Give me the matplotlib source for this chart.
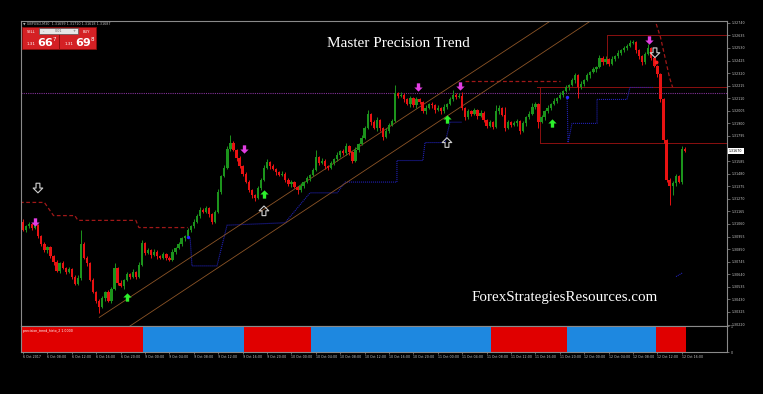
import numpy as np
import matplotlib.pyplot as plt
from matplotlib.path import Path
from matplotlib.patches import Rectangle

# GBPUSD M30, 6-12 Oct 2017 -- closes, open = previous close
first_open = 1.3108
closes = [
    1.3101, 1.3104, 1.3106, 1.3103, 1.3105, 1.3096, 1.3089, 1.3084, 1.3087, 1.3079,
    1.3074, 1.3067, 1.3073, 1.3069, 1.3066, 1.3068, 1.3062, 1.3056, 1.3061, 1.3089,
    1.3078, 1.3073, 1.3059, 1.3049, 1.3042, 1.3037, 1.3044, 1.3049, 1.3042, 1.3052,
    1.3069, 1.3057, 1.3054, 1.3059, 1.3064, 1.3062, 1.3066, 1.3062, 1.3072, 1.3090,
    1.3082, 1.3084, 1.3080, 1.3083, 1.3079, 1.3078, 1.3081, 1.3078, 1.3076, 1.3083,
    1.3086, 1.3089, 1.3094, 1.3096, 1.3101, 1.3104, 1.3108, 1.3113, 1.3118, 1.3116,
    1.3119, 1.3114, 1.3108, 1.3116, 1.3133, 1.3146, 1.3153, 1.3169, 1.3174, 1.3168,
    1.3161, 1.3154, 1.3148, 1.3141, 1.3134, 1.3130, 1.3128, 1.3136, 1.3143, 1.3153,
    1.3158, 1.3154, 1.3152, 1.3149, 1.3147, 1.3148, 1.3143, 1.3139, 1.3141, 1.3137,
    1.3134, 1.3138, 1.3141, 1.3144, 1.3147, 1.3151, 1.3162, 1.3157, 1.3159, 1.3154,
    1.3153, 1.3157, 1.3160, 1.3164, 1.3167, 1.3165, 1.3171, 1.3166, 1.3159, 1.3168,
    1.3173, 1.3178, 1.3186, 1.3198, 1.3191, 1.3186, 1.3193, 1.3186, 1.3179, 1.3184,
    1.3189, 1.3192, 1.3215, 1.3213, 1.3214, 1.3210, 1.3206, 1.3211, 1.3205, 1.3210,
    1.3208, 1.3200, 1.3203, 1.3206, 1.3205, 1.3201, 1.3203, 1.3200, 1.3204, 1.3206,
    1.3210, 1.3214, 1.3212, 1.3213, 1.3203, 1.3195, 1.3200, 1.3198, 1.3201, 1.3196,
    1.3199, 1.3193, 1.3188, 1.3191, 1.3187, 1.3200, 1.3203, 1.3197, 1.3186, 1.3191,
    1.3189, 1.3190, 1.3192, 1.3184, 1.3190, 1.3195, 1.3198, 1.3204, 1.3206, 1.3191,
    1.3195, 1.3200, 1.3203, 1.3206, 1.3209, 1.3211, 1.3214, 1.3217, 1.3220, 1.3222,
    1.3226, 1.3230, 1.3220, 1.3223, 1.3226, 1.3230, 1.3233, 1.3235, 1.3237, 1.3245,
    1.3241, 1.3244, 1.3240, 1.3244, 1.3246, 1.3249, 1.3251, 1.3253, 1.3255, 1.3257,
    1.3258, 1.3251, 1.3246, 1.3241, 1.3248, 1.3253, 1.3245, 1.3238, 1.3231, 1.3210,
    1.3176, 1.3143, 1.3138, 1.3140, 1.3146, 1.3141, 1.3169, 1.3167,
]
# wick lengths in pips above / below the body
upper_wick = [
    2, 1, 2, 1, 2, 1, 1, 2, 1, 1,
    1, 2, 1, 2, 1, 2, 1, 1, 2, 12,
    2, 1, 1, 2, 1, 1, 2, 1, 2, 1,
    4, 1, 2, 1, 2, 1, 2, 1, 2, 3,
    1, 2, 1, 2, 1, 1, 2, 1, 1, 2,
    1, 2, 1, 1, 2, 1, 2, 1, 2, 1,
    2, 1, 1, 2, 2, 1, 2, 2, 6, 1,
    1, 2, 1, 1, 2, 1, 1, 2, 1, 2,
    2, 1, 2, 1, 1, 2, 1, 1, 2, 1,
    1, 2, 1, 2, 1, 2, 6, 1, 2, 1,
    1, 2, 1, 2, 1, 2, 3, 1, 1, 2,
    1, 2, 2, 3, 1, 2, 2, 1, 1, 2,
    1, 2, 7, 1, 2, 1, 1, 2, 1, 2,
    1, 1, 2, 1, 2, 1, 2, 1, 2, 1,
    2, 4, 1, 2, 3, 1, 2, 1, 2, 1,
    2, 1, 1, 2, 1, 5, 2, 1, 7, 2,
    1, 2, 2, 1, 2, 1, 2, 3, 2, 1,
    2, 1, 2, 1, 2, 1, 2, 1, 2, 1,
    2, 2, 1, 2, 1, 2, 1, 2, 1, 2,
    1, 2, 1, 2, 1, 2, 1, 2, 1, 3,
    2, 1, 1, 1, 2, 3, 1, 1, 1, 1,
    1, 1, 1, 2, 2, 1, 2, 1,
]
lower_wick = [
    1, 2, 1, 2, 1, 2, 1, 1, 2, 1,
    2, 1, 2, 1, 2, 1, 2, 1, 1, 2,
    1, 2, 1, 1, 2, 5, 1, 2, 1, 2,
    1, 2, 1, 2, 1, 2, 1, 2, 1, 1,
    2, 1, 2, 1, 2, 1, 1, 2, 1, 1,
    2, 1, 1, 2, 1, 2, 1, 1, 2, 1,
    1, 2, 2, 1, 1, 2, 1, 1, 2, 1,
    2, 1, 2, 1, 1, 2, 3, 1, 2, 1,
    1, 2, 1, 2, 1, 1, 2, 1, 2, 1,
    3, 1, 2, 1, 2, 1, 1, 2, 1, 2,
    2, 1, 2, 1, 2, 1, 1, 2, 2, 1,
    2, 1, 1, 1, 2, 1, 2, 2, 3, 1,
    2, 1, 1, 2, 1, 2, 1, 2, 1, 2,
    2, 1, 2, 1, 2, 2, 1, 2, 1, 2,
    1, 1, 2, 1, 2, 2, 1, 2, 1, 2,
    1, 2, 2, 1, 2, 1, 2, 1, 2, 1,
    2, 1, 2, 3, 1, 2, 1, 1, 2, 5,
    1, 2, 1, 2, 1, 2, 1, 2, 1, 2,
    1, 2, 9, 1, 2, 1, 2, 1, 2, 1,
    2, 1, 2, 1, 2, 1, 2, 1, 2, 1,
    1, 2, 2, 2, 1, 1, 2, 1, 2, 2,
    2, 2, 16, 8, 2, 1, 2, 1,
]

# precision_trend_histo: run lengths of sell / buy state
histo_runs = [(40, 'sell'), (33, 'buy'), (22, 'sell'), (59, 'buy'),
              (25, 'sell'), (29, 'buy'), (10, 'sell')]

price_ticks = [1.32740, 1.32635, 1.32530, 1.32425, 1.32320, 1.32215, 1.32110,
               1.32005, 1.31900, 1.31795, 1.31690, 1.31585, 1.31480, 1.31375,
               1.31270, 1.31165, 1.31060, 1.30955, 1.30850, 1.30745, 1.30640,
               1.30535, 1.30430, 1.30325, 1.30220]
time_labels = ['6 Oct 2017', '6 Oct 08:00', '6 Oct 12:00', '6 Oct 16:00', '6 Oct 20:00',
               '9 Oct 00:00', '9 Oct 04:00', '9 Oct 08:00', '9 Oct 12:00', '9 Oct 16:00',
               '9 Oct 20:00', '10 Oct 00:00', '10 Oct 04:00', '10 Oct 08:00',
               '10 Oct 12:00', '10 Oct 16:00', '10 Oct 20:00', '11 Oct 00:00',
               '11 Oct 04:00', '11 Oct 08:00', '11 Oct 12:00', '11 Oct 16:00',
               '11 Oct 20:00', '12 Oct 00:00', '12 Oct 04:00', '12 Oct 08:00',
               '12 Oct 12:00', '12 Oct 16:00']

# indicator lines (bar index, price)
stop_x = [-1, 7, 10, 17, 18, 37, 38, 54]
stop_y = [1.3124, 1.3124, 1.3113, 1.3113, 1.3109, 1.3109, 1.3103, 1.3103]
resist_x = [145, 176]
resist_y = [1.3225, 1.3225]
drop_x = [207, 209, 210.5, 212, 213]
drop_y = [1.3278, 1.3262, 1.3245, 1.3228, 1.3220]
trail_a_x = [54.8, 55.4, 63.6, 66.9, 85.9, 94.1, 103, 105.6, 122.6, 122.6,
             131.1, 131.8, 138.4, 140, 143.9]
trail_a_y = [1.3094, 1.3071, 1.3071, 1.3105, 1.3107, 1.3132, 1.3132, 1.3141,
             1.3141, 1.3159, 1.3159, 1.3174, 1.3174, 1.3191, 1.3191]
trail_b_x = [178.4, 178.7, 180, 188.2, 188.2, 198, 199, 206.6]
trail_b_y = [1.3212, 1.3174, 1.3190, 1.3190, 1.3210, 1.3210, 1.3220, 1.3220]
trail_c_x = [214.1, 216.1]
trail_c_y = [1.3062, 1.3065]
pivot_level = 1.3215
box_top, box_top_start, box_top_low = 1.3264, 191.5, 1.3245
box_mid, box_mid_start = 1.3220, 168.5
box_low, box_low_start = 1.3174, 169.5
channel_up_x, channel_up_y = [25, 175], [1.3028, 1.3279]
channel_lo_x, channel_lo_y = [34, 200], [1.3019, 1.3299]

sell_x = [3.9, 72.5, 129.5, 143.3, 205.2]
sell_y = [1.3108, 1.3169, 1.3220, 1.3221, 1.3260]
buy_x = [34.1, 79, 139, 173.4]
buy_y = [1.3045, 1.3131, 1.3194, 1.3190]
exit_dn_x, exit_dn_y = [4.9, 207.2], [1.3136, 1.3249]
exit_up_x, exit_up_y = [79, 139], [1.3117, 1.3174]
blue_dot_x, blue_dot_y = [54, 178.4], [1.3095, 1.3212]
red_dot_x, red_dot_y = [207.5], [1.3241]

W, H = 763, 394
fig = plt.figure(figsize=(W / 100, H / 100), dpi=100, facecolor='black')
ax = fig.add_axes([21 / W, 1 - 326 / H, 706 / W, 305 / H], facecolor='black')
ax2 = fig.add_axes([21 / W, 1 - 352 / H, 706 / W, 26 / H], facecolor='black')

n = len(closes)
idx = np.arange(n)
c = np.array(closes)
o = np.concatenate([[first_open], c[:-1]])
hi = np.maximum(o, c) + np.array(upper_wick) * 0.0001
lo = np.minimum(o, c) - np.array(lower_wick) * 0.0001
up = c >= o
col = np.where(up, '#1c941c', '#e81212')

ax.vlines(idx, lo, hi, colors=col, lw=0.7, zorder=3)
ax.bar(idx, np.maximum(np.abs(c - o), 0.00003), bottom=np.minimum(o, c),
       width=0.75, color=col, lw=0, zorder=3)

# levels and lines
ax.axhline(pivot_level, color='#84329a', lw=0.8, ls=(0, (1, 1)), zorder=2)
ax.plot(stop_x, stop_y, color='#a01818', lw=0.9, ls=(0, (3, 2)), zorder=2)
ax.plot(resist_x, resist_y, color='#a01818', lw=0.9, ls=(0, (3, 2)), zorder=2)
ax.plot(drop_x, drop_y, color='#a01818', lw=0.9, ls=(0, (3, 2)), zorder=2)
xr = 232
ax.plot([box_top_start, xr], [box_top, box_top], color='#8b1010', lw=0.7, zorder=2)
ax.plot([box_top_start, box_top_start], [box_top, box_top_low], color='#8b1010', lw=0.7, zorder=2)
ax.plot([box_mid_start, xr], [box_mid, box_mid], color='#8b1010', lw=0.7, zorder=2)
ax.plot([box_low_start, box_low_start], [box_mid, box_low], color='#8b1010', lw=0.7, zorder=2)
ax.plot([box_low_start, xr], [box_low, box_low], color='#8b1010', lw=0.7, zorder=2)
for tx, ty in [(trail_a_x, trail_a_y), (trail_b_x, trail_b_y), (trail_c_x, trail_c_y)]:
    ax.plot(tx, ty, color='#2020b0', lw=0.8, ls=(0, (1, 0.8)), zorder=2)
ax.plot(channel_up_x, channel_up_y, color='#8c5426', lw=0.6, zorder=2)
ax.plot(channel_lo_x, channel_lo_y, color='#8c5426', lw=0.6, zorder=2)

# signal arrows
arrow = Path([(-0.2, -0.5), (0.2, -0.5), (0.2, 0.0), (0.5, 0.0), (0.0, 0.5),
              (-0.5, 0.0), (-0.2, 0.0), (-0.2, -0.5)], closed=True)
arrow_dn = Path(arrow.vertices * [1, -1], closed=True)
ax.scatter(sell_x, sell_y, marker=arrow_dn, s=36, color='#e23ee2', zorder=5, lw=0)
ax.scatter(buy_x, buy_y, marker=arrow, s=36, color='#2cf02c', zorder=5, lw=0)
ax.scatter(exit_dn_x, exit_dn_y, marker=arrow_dn, s=48, facecolor='none',
           edgecolor='#d0d0d0', lw=0.8, zorder=5)
ax.scatter(exit_up_x, exit_up_y, marker=arrow, s=48, facecolor='none',
           edgecolor='#d0d0d0', lw=0.8, zorder=5)
ax.scatter(blue_dot_x, blue_dot_y, s=6, color='#2a2aff', zorder=5, lw=0)
ax.scatter(red_dot_x, red_dot_y, s=8, color='#ff2020', zorder=5, lw=0)

xmin = -0.66
xmax = xmin + 706 / 3.05
ax.set_xlim(xmin, xmax)
ax.set_ylim(1.30208, 1.32755)
ax.set_xticks([])
last = closes[-1]
ticks = [t for t in price_ticks if abs(t - last) > 0.0003]
ax.yaxis.tick_right()
ax.set_yticks(ticks)
ax.set_yticklabels([f'{t:.5f}' for t in ticks])
ax.tick_params(axis='y', length=2, width=0.5, color='#909090', labelsize=2.3,
               labelcolor='#c8c8c8', pad=1.5)
ax.text(1.003, last, f'{last:.5f}', transform=ax.get_yaxis_transform(),
        fontsize=2.3, color='black', va='center', ha='left',
        bbox=dict(fc='white', ec='none', pad=0.7))

# histogram panel
hcol = []
for length, state in histo_runs:
    hcol += [('#e00000' if state == 'sell' else '#1e88e0')] * length
ax2.bar(np.arange(len(hcol)), 1, width=1.02, color=hcol, lw=0)
ax2.set_xlim(xmin, xmax)
ax2.set_ylim(0, 1)
ax2.yaxis.tick_right()
ax2.set_yticks([0, 1])
ax2.set_yticklabels(['0', '1'])
ax2.set_xticks(np.arange(len(time_labels)) * 8)
ax2.set_xticklabels(time_labels)
for lab in ax2.get_xticklabels():
    lab.set_ha('left')
ax2.tick_params(length=1.5, width=0.5, color='#909090', labelsize=2.3,
                labelcolor='#c8c8c8', pad=1)
ax2.text(0.003, 0.82, 'precision_trend_histo_2 1.0000', transform=ax2.transAxes,
         fontsize=2.3, color='white', va='center')

for a in (ax, ax2):
    for s in a.spines.values():
        s.set_color('#8a8a8a')
        s.set_linewidth(0.8)

# overlay: title, watermark, one-click trading panel
ov = fig.add_axes([0, 0, 1, 1], facecolor='none')
ov.set_xlim(0, W)
ov.set_ylim(H, 0)
ov.axis('off')
ov.text(398, 43, 'Master Precision Trend', family='Liberation Serif', fontsize=11,
        color='white', ha='center', va='center')
ov.text(565, 297, 'ForexStrategiesResources.com', family='Liberation Serif',
        fontsize=10.8, color='white', ha='center', va='center')
ov.text(23, 23.5, '\u25bc GBPUSD,M30  1.31699 1.31710 1.31618 1.31687', fontsize=2.4,
        color='#bbbbbb', va='center')
for x0 in (22, 59):
    ov.add_patch(Rectangle((x0, 27.3), 36.5, 22, fc='#d42024', ec='#8a0c0c', lw=0.6))
ov.add_patch(Rectangle((39.3, 27.8), 39, 6.5, fc='#e6e6e6', ec='#555555', lw=0.5))
ov.text(58.8, 31, '0.01', fontsize=2.4, color='#666666', ha='center', va='center')
ov.text(43, 31, '-', fontsize=2.6, color='#555555', ha='center', va='center')
ov.text(74.5, 31, '+', fontsize=2.6, color='#555555', ha='center', va='center')
ov.text(31, 31.5, 'SELL', fontsize=2.6, color='white', ha='center', va='center')
ov.text(86, 31.5, 'BUY', fontsize=2.6, color='white', ha='center', va='center')
for xs, big, sup in [(31, '66', '7'), (69, '69', '8')]:
    ov.text(xs, 44, '1.31', fontsize=3, color='white', ha='center', va='center')
    ov.text(xs + 14, 43, big, fontsize=8, fontweight='bold', color='white',
            ha='center', va='center')
    ov.text(xs + 23, 39.5, sup, fontsize=4, color='white', ha='center', va='center')

fig.savefig('out.png', dpi=100, facecolor='black')
